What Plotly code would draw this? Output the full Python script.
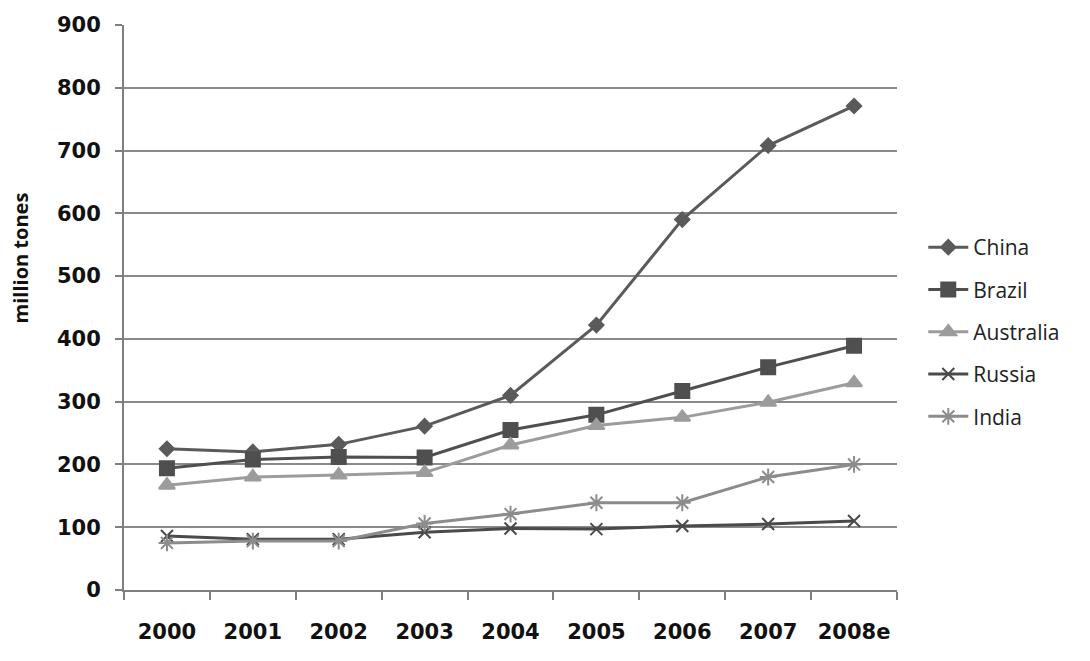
import plotly.graph_objects as go

years = ["2000", "2001", "2002", "2003", "2004", "2005", "2006", "2007", "2008e"]
china = [225, 220, 232, 261, 310, 422, 590, 708, 771]
brazil = [194, 208, 212, 211, 255, 279, 317, 355, 389]
australia = [167, 180, 183, 187, 231, 262, 275, 299, 330]
russia = [86, 81, 81, 92, 98, 97, 102, 105, 110]
india = [75, 78, 78, 106, 121, 139, 139, 180, 200]

series = [
    ("China", china, "#5a5a5a", "diamond", 11),
    ("Brazil", brazil, "#4f4f4f", "square", 14),
    ("Australia", australia, "#9c9c9c", "triangle-up", 14),
    ("Russia", russia, "#4a4a4a", "x-thin-open", 12),
    ("India", india, "#8c8c8c", "asterisk-open", 14),
]

fig = go.Figure()
for name, vals, col, sym, sz in series:
    fig.add_trace(go.Scatter(
        x=years, y=vals, name=name, mode="lines+markers", legendgroup=name,
        line=dict(color=col, width=3),
        marker=dict(symbol=sym, size=sz, color=col, line=dict(color=col, width=2)),
    ))

fig.add_annotation(
    text="<b>million tones</b>", textangle=-90, xref="paper", yref="paper",
    x=-0.134, y=0.5876, xanchor="center", yanchor="middle", showarrow=False,
    font=dict(size=20, family="Open Sans, sans-serif", color="#111111"),
)

fig.update_layout(
    width=1090, height=661,
    margin=dict(l=124, r=193, t=25, b=71),
    paper_bgcolor="white", plot_bgcolor="white",
    font=dict(family="Open Sans, Liberation Sans, sans-serif", color="#111111"),
    showlegend=True,
    legend=dict(x=1.034, y=0.4566, yanchor="middle", xanchor="left",
                font=dict(size=21, color="#222222", family="Open Sans, sans-serif"),
                tracegroupgap=12, itemwidth=40),
    xaxis=dict(
        type="category", showgrid=False, showline=True, linecolor="#7f7f7f", linewidth=2,
        ticks="outside", tickson="boundaries", ticklen=8, tickwidth=2, tickcolor="#7f7f7f",
        tickfont=dict(size=21, family="DejaVu Sans, Verdana, sans-serif", color="#111111", weight="bold"),
        ticklabelstandoff=22, range=[-0.5, 8.5],
    ),
    yaxis=dict(
        range=[0, 900], dtick=100, showgrid=True, gridcolor="#8a8a8a", gridwidth=1.5,
        showline=True, linecolor="#7f7f7f", linewidth=2, zeroline=False,
        ticks="outside", ticklen=7, tickwidth=2, tickcolor="#7f7f7f",
        tickfont=dict(size=21, family="DejaVu Sans, Verdana, sans-serif", color="#111111", weight="bold"),
        ticklabelstandoff=10,
    ),
)

fig.write_html("out.html")
